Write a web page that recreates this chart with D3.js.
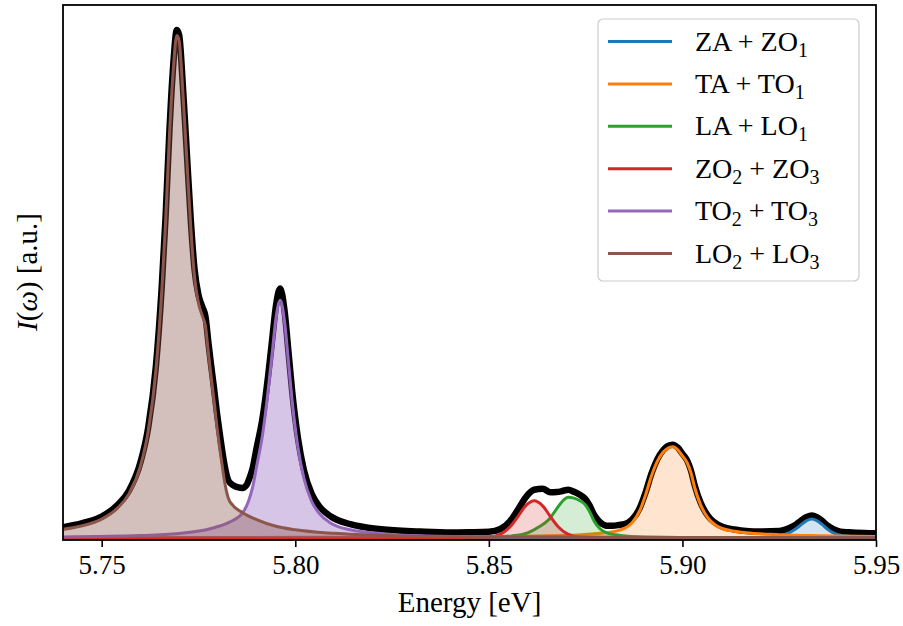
<!DOCTYPE html>
<html><head><meta charset="utf-8">
<script src="https://cdn.jsdelivr.net/npm/d3@7"></script>
<style>
body{margin:0;background:#fff}
svg{display:block}
text{font-family:"Liberation Serif","Times New Roman",serif;fill:#000}
</style>
</head><body>
<svg id="chart" width="903" height="626"></svg>
<script>
// ---------- data ----------
const labels = ["ZA + ZO_1","TA + TO_1","LA + LO_1","ZO_2 + ZO_3","TO_2 + TO_3","LO_2 + LO_3"];
const colors = ["#1f77b4","#ff7f0e","#2ca02c","#d62728","#9467bd","#8c564b"];
const fillAlpha = [0.2,0.2,0.2,0.2,0.38,0.38];
const xTicks = [5.75,5.80,5.85,5.90,5.95];
const xLabel = "Energy [eV]";

// ZA + ZO1 (blue)
const zaE = [5.740,5.850,5.900,5.910,5.920,5.925,5.9275,5.9293,5.9308,5.9321,5.9334,5.9347,5.9360,5.9375,5.9390,5.9408,5.9430,5.9470,5.950];
const zaI = [0,0,0.0002,0.0005,0.001,0.004,0.010,0.018,0.027,0.034,0.037,0.034,0.027,0.017,0.010,0.0055,0.0035,0.002,0.0015];
// TA + TO1 (orange)
const taE = [5.740,5.800,5.840,5.870,5.880,5.885,5.887,5.889,5.8905,5.892,5.8935,5.895,5.8962,5.8975,5.8988,5.900,5.9012,5.9022,5.9032,5.9047,5.906,5.9073,5.909,5.9105,5.9135,5.9165,5.925,5.935,5.950];
const taI = [0.0008,0.0012,0.002,0.005,0.010,0.019,0.030,0.054,0.085,0.122,0.150,0.168,0.176,0.179,0.173,0.161,0.148,0.128,0.098,0.065,0.046,0.033,0.023,0.018,0.013,0.010,0.0065,0.0045,0.003];
// LA + LO1 (green)
const laE = [5.740,5.840,5.850,5.856,5.860,5.863,5.8655,5.8675,5.869,5.8705,5.872,5.8735,5.8748,5.876,5.8772,5.8787,5.8805,5.884,5.890,5.910,5.950];
const laI = [0,0.0005,0.0015,0.004,0.010,0.022,0.036,0.057,0.072,0.080,0.078,0.073,0.066,0.052,0.033,0.018,0.010,0.005,0.002,0.0005,0];
// ZO2 + ZO3 (red)
const zoE = [5.740,5.840,5.845,5.850,5.853,5.8555,5.8575,5.8595,5.8617,5.8639,5.8659,5.8679,5.8704,5.8734,5.878,5.900,5.950];
const zoI = [0,0.0003,0.001,0.0015,0.0075,0.022,0.042,0.063,0.073,0.063,0.042,0.022,0.0075,0.0015,0.0005,0,0];
// TO2 + TO3 (purple)
const toE = [5.740,5.760,5.770,5.778,5.783,5.7863,5.788,5.789,5.790,5.7915,5.793,5.794,5.795,5.7961,5.7972,5.7982,5.7992,5.8007,5.8022,5.8042,5.8062,5.8092,5.8142,5.8222,5.8322,5.850,5.900,5.950];
const toI = [0.002,0.0046,0.0088,0.018,0.031,0.048,0.074,0.100,0.14,0.20,0.29,0.36,0.43,0.466,0.426,0.348,0.268,0.177,0.118,0.072,0.048,0.029,0.016,0.0085,0.0045,0.0025,0.0008,0.0005];
// LO2 + LO3 (brown)
const loE = [5.740,5.745,5.750,5.754,5.757,5.760,5.762,5.764,5.7655,5.7665,5.7675,5.7685,5.7694,5.770,5.771,5.772,5.773,5.774,5.775,5.776,5.7768,5.7776,5.7783,5.7790,5.7798,5.7805,5.7811,5.7817,5.7827,5.784,5.7863,5.790,5.795,5.800,5.810,5.825,5.850,5.900,5.950];
const loI = [0.017,0.024,0.037,0.058,0.086,0.141,0.209,0.329,0.483,0.62,0.79,0.92,0.985,0.975,0.87,0.74,0.61,0.51,0.46,0.435,0.415,0.36,0.314,0.27,0.216,0.175,0.143,0.112,0.078,0.063,0.05,0.036,0.023,0.016,0.009,0.0045,0.002,0.001,0.0005];
// total spectrum (black)
const totE = [5.740,5.745,5.750,5.754,5.757,5.760,5.762,5.764,5.7655,5.7665,5.7675,5.7685,5.7694,5.770,5.771,5.772,5.773,5.774,5.775,5.776,5.7768,5.7776,5.7783,5.7790,5.7798,5.7805,5.7811,5.7817,5.7827,5.784,5.7853,5.7863,5.7875,5.788,5.789,5.790,5.7915,5.793,5.794,5.795,5.7961,5.7972,5.7982,5.7992,5.8007,5.8022,5.8042,5.8062,5.8092,5.8142,5.8222,5.8322,5.840,5.845,5.850,5.853,5.8555,5.8575,5.8595,5.8617,5.8639,5.8659,5.8675,5.869,5.8705,5.872,5.8735,5.8748,5.876,5.8772,5.8787,5.8805,5.882,5.884,5.885,5.887,5.889,5.8905,5.892,5.8935,5.895,5.8962,5.8975,5.8988,5.900,5.9012,5.9022,5.9032,5.9047,5.906,5.9073,5.909,5.9105,5.9135,5.9165,5.920,5.925,5.9275,5.9293,5.9308,5.9321,5.9334,5.9347,5.936,5.9375,5.939,5.9408,5.943,5.947,5.950];
const totI = [0.021,0.029,0.042,0.064,0.092,0.148,0.216,0.337,0.492,0.63,0.80,0.93,0.996,0.986,0.882,0.753,0.624,0.525,0.476,0.453,0.434,0.38,0.336,0.294,0.243,0.204,0.172,0.144,0.113,0.103,0.099,0.098,0.105,0.114,0.137,0.176,0.233,0.319,0.387,0.455,0.489,0.447,0.368,0.287,0.195,0.134,0.087,0.062,0.042,0.027,0.017,0.0125,0.0105,0.011,0.012,0.0175,0.033,0.0555,0.0795,0.0945,0.0965,0.0895,0.09,0.092,0.0945,0.0905,0.0845,0.0775,0.064,0.045,0.031,0.024,0.024,0.026,0.027,0.036,0.059,0.0895,0.126,0.154,0.172,0.18,0.183,0.177,0.165,0.152,0.132,0.102,0.069,0.05,0.037,0.027,0.0215,0.0165,0.0135,0.0125,0.0135,0.019,0.026,0.035,0.041,0.044,0.041,0.034,0.024,0.017,0.0125,0.011,0.0095,0.009];

const components = [[zaE,zaI],[taE,taI],[laE,laI],[zoE,zoI],[toE,toI],[loE,loI]];

// ---------- layout ----------
const svg = d3.select("#chart");
const L = 63, R = 876, T = 5, B = 540;
const x = d3.scaleLinear().domain([5.74,5.95]).range([L,R]);
const y = d3.scaleLinear().domain([-0.004,1.045]).range([B,T]);

svg.append("defs").append("clipPath").attr("id","clip")
  .append("rect").attr("x",L).attr("y",T).attr("width",R-L).attr("height",B-T);

const g = svg.append("g").attr("clip-path","url(#clip)");
const line = d3.line().x(d=>x(d[0])).y(d=>y(d[1])).curve(d3.curveMonotoneX);
const area = d3.area().x(d=>x(d[0])).y0(y(0)).y1(d=>y(d[1])).curve(d3.curveMonotoneX);

// total
g.append("path").datum(d3.zip(totE,totI)).attr("d",line)
  .attr("fill","none").attr("stroke","#000").attr("stroke-width",6.5)
  .attr("stroke-linejoin","round").attr("stroke-linecap","round");

components.forEach(([e,v],i)=>{
  const pts = d3.zip(e,v);
  g.append("path").datum(pts).attr("d",area)
    .attr("fill",colors[i]).attr("fill-opacity",fillAlpha[i]).attr("stroke","none");
  g.append("path").datum(pts).attr("d",line)
    .attr("fill","none").attr("stroke",colors[i]).attr("stroke-width",3)
    .attr("stroke-linejoin","round");
});

// axis
const ax = svg.append("g").attr("transform",`translate(0,${B})`)
  .call(d3.axisBottom(x).tickValues(xTicks).tickFormat(d3.format(".2f")).tickSize(7).tickPadding(8));
ax.select(".domain").remove();
ax.selectAll(".tick line").attr("stroke","#000").attr("stroke-width",1.6);
ax.selectAll(".tick text").attr("font-family","Liberation Serif, serif").attr("font-size",27).attr("fill","#000");

// frame
svg.append("rect").attr("x",L).attr("y",T).attr("width",R-L).attr("height",B-T)
  .attr("fill","none").attr("stroke","#000").attr("stroke-width",1.8);

// axis labels
svg.append("text").attr("x",(L+R)/2).attr("y",612).attr("text-anchor","middle")
  .attr("font-size",29).text(xLabel);
const yl = svg.append("text").attr("transform",`translate(37,272) rotate(-90)`)
  .attr("text-anchor","middle").attr("font-size",29);
yl.append("tspan").attr("font-style","italic").text("I");
yl.append("tspan").text("(");
yl.append("tspan").attr("font-style","italic").text("ω");
yl.append("tspan").text(") [a.u.]");

// legend
const lg = svg.append("g");
lg.append("rect").attr("x",598).attr("y",19).attr("width",261).attr("height",262)
  .attr("rx",5).attr("fill","#fff").attr("fill-opacity",0.8)
  .attr("stroke","#cccccc").attr("stroke-width",1.2);
labels.forEach((lab,i)=>{
  const cy = 41.5 + i*42.4;
  lg.append("line").attr("x1",608).attr("x2",672).attr("y1",cy).attr("y2",cy)
    .attr("stroke",colors[i]).attr("stroke-width",3);
  const t = lg.append("text").attr("x",695).attr("y",cy+9).attr("font-size",28);
  const parts = lab.split(/(_\d)/).filter(s=>s.length);
  let shifted = false;
  parts.forEach(p=>{
    if (p.startsWith("_")) {
      t.append("tspan").attr("font-size",20).attr("dy",6).text(p.slice(1));
      shifted = true;
    } else {
      const ts = t.append("tspan").text(p);
      if (shifted) { ts.attr("dy",-6); shifted = false; }
    }
  });
});
</script>
</body></html>
